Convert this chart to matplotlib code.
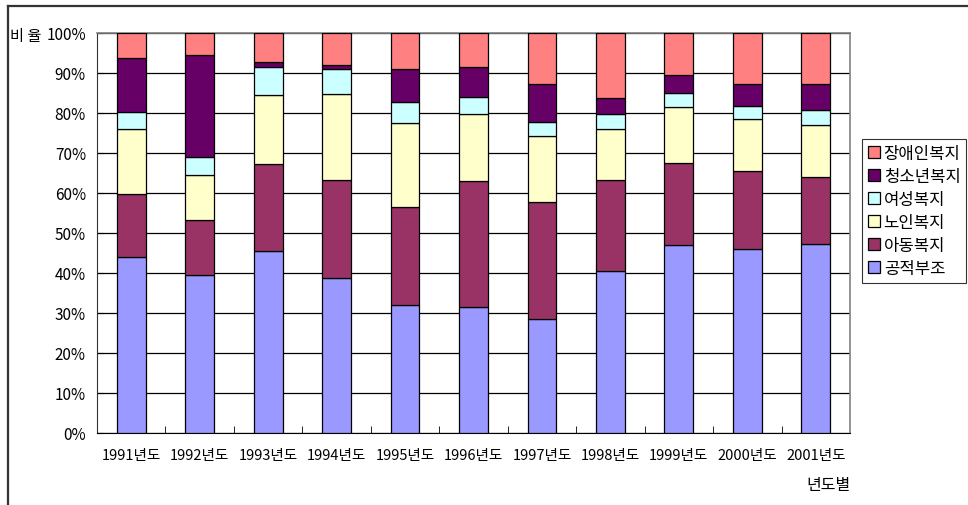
import numpy as np
import matplotlib
matplotlib.use("Agg")
import matplotlib.pyplot as plt
from matplotlib.lines import Line2D

plt.rcParams['font.family'] = ['Noto Sans CJK KR', 'DejaVu Sans']

years = ['1991년도', '1992년도', '1993년도', '1994년도', '1995년도', '1996년도',
         '1997년도', '1998년도', '1999년도', '2000년도', '2001년도']

# percent shares, bottom to top
gongjeok = [43.9, 39.6, 45.5, 38.7, 32.1, 31.4, 28.4, 40.6, 46.9, 45.9, 47.2]
adong = [15.8, 13.6, 21.7, 24.6, 24.3, 31.5, 29.3, 22.6, 20.5, 19.6, 16.8]
noin = [16.2, 11.4, 17.2, 21.4, 21.2, 16.8, 16.6, 12.9, 14.0, 13.0, 13.1]
yeoseong = [4.3, 4.5, 7.0, 6.4, 5.2, 4.3, 3.5, 3.6, 3.6, 3.2, 3.6]
cheongsonyeon = [13.6, 25.3, 1.4, 0.8, 8.1, 7.4, 9.5, 4.0, 4.5, 5.5, 6.6]
jangae = [6.2, 5.6, 7.2, 8.1, 9.1, 8.6, 12.7, 16.3, 10.5, 12.8, 12.7]

series = [
    ('공적부조', gongjeok, '#9999FF'),
    ('아동복지', adong, '#993366'),
    ('노인복지', noin, '#FFFFCC'),
    ('여성복지', yeoseong, '#CCFFFF'),
    ('청소년복지', cheongsonyeon, '#660066'),
    ('장애인복지', jangae, '#FF8080'),
]

W, H = 968, 506
fig = plt.figure(figsize=(W / 100, H / 100), dpi=100)
ax = fig.add_axes([97 / W, 1 - 434 / H, (850 - 97) / W, (434 - 34) / H])

x = np.arange(len(years))
bottom = np.zeros(len(years))
handles = []
for name, vals, col in series:
    vals = np.array(vals)
    b = ax.bar(x, vals, 0.42, bottom=bottom, color=col, edgecolor='black',
               linewidth=0.9, label=name, zorder=3)
    handles.append(b)
    bottom += vals

ax.set_xlim(-0.5, len(years) - 0.5)
ax.set_ylim(0, 100)
ax.set_yticks(np.arange(0, 101, 10))
ax.set_yticklabels(['%d%%' % v for v in range(0, 101, 10)], fontsize=11)
ax.yaxis.grid(True, color='black', linewidth=0.9, zorder=0)
ax.set_axisbelow(True)

ax.set_xticks(x)
ax.set_xticklabels(years, fontsize=10.5)
ax.tick_params(axis='x', length=0, pad=11)
ax.set_xticks(np.arange(0.5, len(years) - 1, 1), minor=True)
ax.tick_params(axis='x', which='minor', direction='in', length=5, color='black')
ax.tick_params(axis='y', direction='in', length=4, pad=8)

for s in ['top', 'right']:
    ax.spines[s].set_color('#808080')
    ax.spines[s].set_linewidth(1.2)
ax.spines['left'].set_color('#333333')
ax.spines['bottom'].set_color('black')

fig.text(10 / W, 1 - 37 / H, '비 율', fontsize=11, va='center', ha='left')
fig.text(851 / W, 1 - 486 / H, '년도별', fontsize=11.5, va='center', ha='right')

leg = fig.legend(handles[::-1], [s[0] for s in series][::-1],
                 loc='upper left', bbox_to_anchor=(862 / W, 1 - 140 / H),
                 fontsize=12, frameon=True, fancybox=False, edgecolor='black',
                 handlelength=0.7, handleheight=0.7, handletextpad=0.25,
                 labelspacing=0.36, borderpad=0.35, borderaxespad=0)
leg.get_frame().set_linewidth(0.8)

# outer chart frame
fig.add_artist(Line2D([8 / W, 1], [1 - 7 / H, 1 - 7 / H], color='#333333', linewidth=1.6))
fig.add_artist(Line2D([8 / W, 8 / W], [0, 1 - 7 / H], color='#333333', linewidth=1.6))

fig.savefig('out.png', dpi=100, facecolor='white')
